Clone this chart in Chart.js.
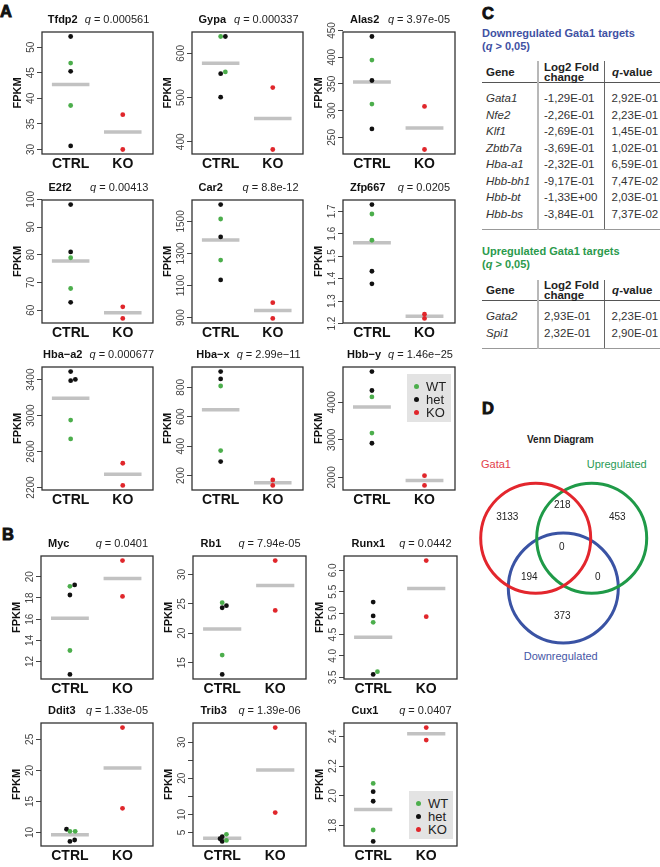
<!DOCTYPE html>
<html>
<head>
<meta charset="utf-8">
<script src="https://cdn.jsdelivr.net/npm/chart.js@4.4.0/dist/chart.umd.min.js"></script>
<style>
  body { margin: 0; background: #fff; font-family: "Liberation Sans", Arial, sans-serif; }
  #fig { position: relative; width: 660px; height: 867px; overflow: hidden; background: #fff; }
  #fig canvas { position: absolute; }
  .lab { position: absolute; font-size: 16.5px; line-height: 16.5px; font-weight: bold; -webkit-text-stroke: 0.9px #111; color: #111; }
  .ttl { position: absolute; display: flex; justify-content: space-between; gap: 7px; min-width: 100px;
         transform: translateX(-50%); font-size: 11px; line-height: 11px; color: #222; white-space: nowrap; }
  .ttl b { color: #111; }
  .leg { position: absolute; background: #e3e3e3; width: 44px; height: 48px; font-size: 13px; color: #222; }
  .leg div { position: absolute; left: 0; height: 13px; line-height: 13px; }
  .leg span.d { position: absolute; left: 7px; top: 4px; width: 5px; height: 5px; border-radius: 50%; }
  .leg span.t { position: absolute; left: 19px; top: 0; }
  .head { position: absolute; left: 482px; font-size: 11px; line-height: 13.4px; font-weight: bold; }
  .tbl { position: absolute; left: 482px; width: 178px; border-collapse: collapse; font-size: 11.5px; color: #333; table-layout: fixed; }
  .tbl td, .tbl th { padding: 0; white-space: nowrap; }
  .tbl th { font-weight: bold; color: #222; text-align: left; border-bottom: 1px solid #555; vertical-align: middle; }
  .tbl .c1 { border-right: 2px solid #b8b8b8; padding-left: 4px; }
  .tbl .c2 { border-right: 1px solid #666; padding-left: 5px; }
  .tbl .c3 { padding-left: 7px; }
  .tbl th.c3 { text-align: center; padding-left: 0; }
  .tbl td.c1 { font-style: italic; }
  .tbl tr.r td { height: 16.5px; line-height: 16.5px; }
  .tbl tr.sp td { height: 7px; }
  .tbl tr.last td { border-bottom: 1px solid #999; }
  .txt { position: absolute; white-space: nowrap; }
</style>
</head>
<body>
<div id="fig">
  <div class="lab" style="left:0px;top:3px">A</div>
  <div class="lab" style="left:2px;top:526px">B</div>
  <div class="lab" style="left:482px;top:5px">C</div>
  <div class="lab" style="left:482px;top:400px">D</div>

  <div class="head" style="top:26.6px;color:#3f51a3">Downregulated Gata1 targets<br>(<i>q</i> &gt; 0,05)</div>
  <table class="tbl" id="downTbl" style="top:61px"></table>
  <div class="head" style="top:245px;color:#2b9a4c">Upregulated Gata1 targets<br>(<i>q</i> &gt; 0,05)</div>
  <table class="tbl" id="upTbl" style="top:280px"></table>

  <div class="txt" style="left:527px;top:435px;font-size:10px;line-height:10px;font-weight:bold;color:#222">Venn Diagram</div>
  <div class="txt" style="left:481px;top:458.8px;font-size:11px;line-height:11px;color:#e2404a">Gata1</div>
  <div class="txt" style="left:586.7px;top:458.8px;font-size:11px;line-height:11px;color:#2a9a55">Upregulated</div>
  <div class="txt" style="left:523.7px;top:651.2px;font-size:11px;line-height:11px;color:#4656a6">Downregulated</div>
</div>
<script>
// ===== Data: panels A (Gata1 targets) and B =====
const genes = ['Tfdp2', 'Gypa', 'Alas2', 'E2f2', 'Car2', 'Zfp667', 'Hba\u2212a2', 'Hba\u2212x', 'Hbb\u2212y',
               'Myc', 'Rb1', 'Runx1', 'Ddit3', 'Trib3', 'Cux1'];
const qValues = ['0.000561', '0.000337', '3.97e-05', '0.00413', '8.8e-12', '0.0205', '0.000677', '2.99e\u221211', '1.46e\u221225',
                 '0.0401', '7.94e-05', '0.0442', '1.33e-05', '1.39e-06', '0.0407'];

// CTRL samples (5 per gene) with genotype and small horizontal jitter
const ctrlValues = [
  [52.1, 46.9, 45.3, 38.6, 30.7],
  [638, 638, 558, 554, 501],
  [438.7, 394.7, 356.4, 312.3, 265.8],
  [98.1, 81.0, 78.9, 67.8, 62.8],
  [1605, 1515, 1403, 1259, 1135],
  [1.730, 1.688, 1.571, 1.433, 1.377],
  [3490, 3389, 3403, 2950, 2740],
  [907, 857, 809, 370, 295],
  [4818, 4313, 4143, 3179, 2909],
  [19.10, 19.23, 18.28, 13.04, 10.78],
  [25.21, 24.34, 24.69, 16.28, 12.99],
  [5.258, 4.934, 4.784, 3.630, 3.566],
  [10.53, 10.2, 10.2, 8.57, 8.80],
  [4.49, 3.81, 3.25, 2.8, 2.51],
  [2.084, 2.028, 1.964, 1.771, 1.694]
];
const ctrlGenotype = [
  ['het', 'WT', 'het', 'WT', 'het'],
  ['WT', 'het', 'WT', 'het', 'het'],
  ['het', 'WT', 'het', 'WT', 'het'],
  ['het', 'het', 'WT', 'WT', 'het'],
  ['het', 'WT', 'het', 'WT', 'het'],
  ['het', 'WT', 'WT', 'het', 'het'],
  ['het', 'het', 'het', 'WT', 'WT'],
  ['het', 'het', 'WT', 'WT', 'het'],
  ['het', 'het', 'WT', 'WT', 'het'],
  ['WT', 'het', 'het', 'WT', 'het'],
  ['WT', 'het', 'het', 'WT', 'het'],
  ['het', 'het', 'WT', 'WT', 'het'],
  ['het', 'WT', 'WT', 'het', 'het'],
  ['WT', 'het', 'het', 'WT', 'het'],
  ['WT', 'het', 'het', 'WT', 'het']
];
const ctrlJitter = [
  [0, 0, 0, 0, 0],
  [0, 0.09, 0.09, 0, 0],
  [0, 0, 0, 0, 0],
  [0, 0, 0, 0, 0],
  [0, 0, 0, 0, 0],
  [0, 0, 0, 0, 0],
  [0, 0, 0.09, 0, 0],
  [0, 0, 0, 0, 0],
  [0, 0, 0, 0, 0],
  [0, 0.09, 0, 0, 0],
  [0, 0, 0.08, 0, 0],
  [0, 0, 0, 0.08, 0],
  [-0.065, 0, 0.1, 0, 0.09],
  [0.08, 0, -0.04, 0.08, 0],
  [0, 0, 0, 0, 0]
];
// KO samples (2 per gene)
const koValues = [
  [36.8, 30.0], [522.5, 382.7], [308, 227.4], [61.2, 57.0], [993, 895], [1.242, 1.223],
  [2470, 2223], [170, 133], [2045, 1786],
  [21.53, 18.14], [32.37, 23.89], [6.23, 4.917], [26.9, 13.9], [34.04, 10.5], [2.459, 2.375]
];
const koJitter = [
  [0, 0], [0, 0], [0, 0], [0, 0], [0, 0], [0, 0], [0, 0], [0, 0], [0, 0],
  [0, 0], [0, 0], [0, 0], [0, 0], [0, 0], [0, 0]
];
// y tick values and their printed labels
const yTicks = [
  [30, 35, 40, 45, 50], [400, 500, 600], [250, 300, 350, 400, 450], [60, 70, 80, 90, 100],
  [900, 1100, 1300, 1500], [1.2, 1.3, 1.4, 1.5, 1.6, 1.7], [2200, 2600, 3000, 3400],
  [200, 400, 600, 800], [2000, 3000, 4000],
  [12, 14, 16, 18, 20], [15, 20, 25, 30], [3.5, 4.0, 4.5, 5.0, 5.5, 6.0], [10, 15, 20, 25],
  [5, 10, 15, 20, 25, 30], [1.8, 2.0, 2.2, 2.4]
];
const yTickLabels = [
  ['30', '35', '40', '45', '50'], ['400', '500', '600'], ['250', '300', '350', '400', '450'],
  ['60', '70', '80', '90', '100'], ['900', '1100', '1300', '1500'], ['1.2', '1.3', '1.4', '1.5', '1.6', '1.7'],
  ['2200', '2600', '3000', '3400'], ['200', '400', '600', '800'], ['2000', '3000', '4000'],
  ['12', '14', '16', '18', '20'], ['15', '20', '25', '30'], ['3.5', '4.0', '4.5', '5.0', '5.5', '6.0'],
  ['10', '15', '20', '25'], ['5', '10', '', '20', '', '30'], ['1.8', '2.0', '2.2', '2.4']
];
const groups = ['CTRL', 'KO'];
const genotypes = ['WT', 'het', 'KO'];

// ===== Data: panel C tables =====
const downGenes = ['Gata1', 'Nfe2', 'Klf1', 'Zbtb7a', 'Hba-a1', 'Hbb-bh1', 'Hbb-bt', 'Hbb-bs'];
const downLog2FC = ['-1,29E-01', '-2,26E-01', '-2,69E-01', '-3,69E-01', '-2,32E-01', '-9,17E-01', '-1,33E+00', '-3,84E-01'];
const downQ = ['2,92E-01', '2,23E-01', '1,45E-01', '1,02E-01', '6,59E-01', '7,47E-02', '2,03E-01', '7,37E-02'];
const upGenes = ['Gata2', 'Spi1'];
const upLog2FC = ['2,93E-01', '2,32E-01'];
const upQ = ['2,23E-01', '2,90E-01'];

// ===== Data: panel D Venn =====
const vennSets = ['Gata1', 'Upregulated', 'Downregulated'];
const vennCounts = [3133, 218, 453, 0, 194, 0, 373];

// ===== Layout / style =====
const colGreen = '#4cae4c', colBlack = '#111111', colRed = '#e0262b', colMean = '#c2c2c2';
const genoColors = { WT: colGreen, het: colBlack, KO: colRed };
const boxCols = { A: [[42, 153], [192, 303], [343, 455]], B: [[41, 153], [193, 306], [344, 457]] };
const boxRows = { A: [[32, 154], [200, 323], [367, 490]], B: [[556, 679], [723, 846]] };
const legendPanels = { 8: 'top', 14: 'bottom' };
const FONT = '"Liberation Sans", Arial, sans-serif';
const fig = document.getElementById('fig');

const mean = a => a.reduce((s, v) => s + v, 0) / a.length;

// box + rotated y tick labels, R style
const rAxis = {
  id: 'rAxis',
  afterDraw(chart, args, opts) {
    const { ctx, chartArea: a, scales: { y } } = chart;
    ctx.save();
    ctx.strokeStyle = '#333';
    ctx.lineWidth = 1.3;
    ctx.strokeRect(a.left, a.top, a.right - a.left, a.bottom - a.top);
    ctx.fillStyle = '#444';
    ctx.font = '10px ' + FONT;
    ctx.textAlign = 'center';
    ctx.textBaseline = 'middle';
    opts.ticks.forEach((v, j) => {
      if (!opts.labels[j]) return;
      ctx.save();
      ctx.translate(a.left - 10.5, y.getPixelForValue(v));
      ctx.rotate(-Math.PI / 2);
      ctx.fillText(opts.labels[j], 0, 0);
      ctx.restore();
    });
    ctx.restore();
  }
};

// ===== Strip charts =====
genes.forEach((gene, i) => {
  const part = i < 9 ? 'A' : 'B';
  const k = i < 9 ? i : i - 9;
  const [x0, x1] = boxCols[part][k % 3];
  const [y0, y1] = boxRows[part][Math.floor(k / 3)];
  const padL = 42, padT = 14, padR = 4, padB = 20;

  const cv = document.createElement('canvas');
  cv.width = x1 - x0 + padL + padR;
  cv.height = y1 - y0 + padT + padB;
  cv.style.left = (x0 - padL) + 'px';
  cv.style.top = (y0 - padT) + 'px';
  fig.appendChild(cv);

  const t = document.createElement('div');
  t.className = 'ttl';
  t.style.left = ((x0 + x1) / 2 + 1) + 'px';
  t.style.top = (y0 - 18.5) + 'px';
  t.innerHTML = `<b>${gene}</b><span><i>q</i> = ${qValues[i]}</span>`;
  fig.appendChild(t);

  const all = ctrlValues[i].concat(koValues[i]);
  const lo = Math.min(...all), hi = Math.max(...all), ext = (hi - lo) * 0.04;
  const ctrlPts = g => ctrlValues[i]
    .map((v, j) => ({ x: 1 + ctrlJitter[i][j], y: v, g: ctrlGenotype[i][j] }))
    .filter(p => p.g === g);
  const koPts = koValues[i].map((v, j) => ({ x: 2 + koJitter[i][j], y: v }));
  const m1 = mean(ctrlValues[i]), m2 = mean(koValues[i]);
  const dot = (label, data, color) => ({ label, data, backgroundColor: color, borderWidth: 0, pointRadius: 2.4 });
  const bar = (c, m) => ({ data: [{ x: c - 0.36, y: m }, { x: c + 0.36, y: m }], showLine: true,
    borderColor: colMean, borderWidth: 3.5, pointRadius: 0, borderCapStyle: 'butt' });

  new Chart(cv, {
    type: 'scatter',
    data: {
      datasets: [
        dot('WT', ctrlPts('WT'), genoColors.WT),
        dot('het', ctrlPts('het'), genoColors.het),
        dot('KO', koPts, genoColors.KO),
        bar(1, m1),
        bar(2, m2)
      ]
    },
    options: {
      responsive: false, animation: false, devicePixelRatio: 1, events: [],
      layout: { padding: { top: padT, right: padR, left: 0, bottom: 0 } },
      plugins: {
        legend: { display: false }, tooltip: { enabled: false },
        rAxis: { ticks: yTicks[i], labels: yTickLabels[i] }
      },
      scales: {
        x: {
          type: 'linear', min: 0.45, max: 2.58,
          afterBuildTicks: s => { s.ticks = [{ value: 1 }, { value: 2 }]; },
          afterFit: s => { s.height = padB; },
          grid: { display: false, drawTicks: false }, border: { display: false },
          ticks: { callback: v => groups[v - 1], font: { family: FONT, size: 14, weight: 'bold' },
                   color: '#111', padding: 2, maxRotation: 0, autoSkip: false }
        },
        y: {
          type: 'linear', min: lo - ext, max: hi + ext,
          afterBuildTicks: s => { s.ticks = yTicks[i].map(v => ({ value: v })); },
          afterFit: s => { s.width = padL; },
          ticks: { display: false },
          grid: { drawOnChartArea: false, drawTicks: true, tickLength: 5, color: '#444' },
          border: { display: false },
          title: { display: true, text: 'FPKM', font: { family: FONT, size: 11, weight: 'bold' },
                   color: '#111', padding: { top: 11.4, bottom: 0 } }
        }
      }
    },
    plugins: [rAxis]
  });

  if (legendPanels[i]) {
    const lg = document.createElement('div');
    lg.className = 'leg';
    lg.style.left = (x1 - 48) + 'px';
    lg.style.top = (legendPanels[i] === 'top' ? y0 + 7 : y1 - 55) + 'px';
    lg.innerHTML = genotypes.map((g, j) =>
      `<div style="top:${5.5 + j * 13}px;width:44px"><span class="d" style="background:${genoColors[g]}"></span><span class="t">${g}</span></div>`
    ).join('');
    fig.appendChild(lg);
  }
});

// ===== Tables (panel C) =====
function fillTable(id, gs, fc, qs, headH) {
  let h = `<colgroup><col style="width:56px"><col style="width:66px"><col style="width:56px"></colgroup>`;
  h += `<tr style="height:${headH}px"><th class="c1">Gene</th><th class="c2" style="line-height:10px">Log2 Fold<br>change</th><th class="c3"><i>q</i>-value</th></tr>`;
  h += `<tr class="sp"><td class="c1"></td><td class="c2"></td><td class="c3"></td></tr>`;
  gs.forEach((g, j) => {
    h += `<tr class="r"><td class="c1">${g}</td><td class="c2">${fc[j]}</td><td class="c3">${qs[j]}</td></tr>`;
  });
  h += `<tr class="sp last"><td class="c1"></td><td class="c2"></td><td class="c3"></td></tr>`;
  document.getElementById(id).innerHTML = h;
}
fillTable('downTbl', downGenes, downLog2FC, downQ, 21.7);
fillTable('upTbl', upGenes, upLog2FC, upQ, 20.7);

// ===== Venn (panel D) =====
const vennColors = ['#e3262d', '#1f9a48', '#3a53a4'];
const vennCenters = [[75.7, 68.2], [131.7, 68.2], [103.3, 118]];
const vennCountPos = [[47.3, 47.3], [102.3, 35], [157.3, 47.3], [101.7, 77.7], [69.3, 107.3], [137.7, 107.3], [102.3, 146.7]];
const vennText = {
  id: 'vennText',
  afterDatasetsDraw(chart) {
    const { ctx, scales: { x, y } } = chart;
    ctx.save();
    ctx.fillStyle = '#222';
    ctx.font = '10px ' + FONT;
    ctx.textAlign = 'center';
    ctx.textBaseline = 'middle';
    vennCounts.forEach((c, j) => {
      ctx.fillText(String(c), x.getPixelForValue(vennCountPos[j][0]), y.getPixelForValue(vennCountPos[j][1]));
    });
    ctx.restore();
  }
};
const vc = document.createElement('canvas');
vc.width = 200; vc.height = 190;
vc.style.left = '460px'; vc.style.top = '470px';
fig.appendChild(vc);
new Chart(vc, {
  type: 'bubble',
  data: {
    datasets: vennSets.map((s, k) => ({
      label: s,
      data: [{ x: vennCenters[k][0], y: vennCenters[k][1], r: 55 }],
      backgroundColor: 'rgba(0,0,0,0)', borderColor: vennColors[k], borderWidth: 3, clip: false
    }))
  },
  options: {
    responsive: false, animation: false, devicePixelRatio: 1, events: [],
    layout: { padding: 0, autoPadding: false },
    plugins: { legend: { display: false }, tooltip: { enabled: false } },
    scales: {
      x: { type: 'linear', display: false, min: 0, max: 200 },
      y: { type: 'linear', display: false, min: 0, max: 190, reverse: true }
    }
  },
  plugins: [vennText]
});
</script>
</body>
</html>
